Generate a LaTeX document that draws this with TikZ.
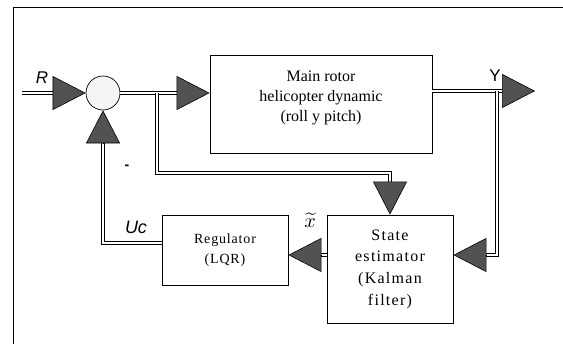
\documentclass[tikz,border=0pt]{standalone}
\usepackage{fontspec}
\setmainfont{Liberation Serif}
\setsansfont{Liberation Sans}
\newfontfamily\spacedserif[LetterSpace=8]{Liberation Serif}
\newfontfamily\lessspaced[LetterSpace=6]{Liberation Serif}
\usetikzlibrary{arrows.meta}
\definecolor{tipgray}{gray}{0.32}
\definecolor{sumgray}{gray}{0.96}
\tikzset{
  sig/.style={double, double distance=2.2pt, line width=0.6pt},
  tip/.style={line width=0.6pt, -{Triangle[length=33pt,width=34pt,fill=tipgray]}},
  blk/.style={draw, line width=0.8pt, rectangle, align=center, inner sep=0pt},
  sglabel/.style={font=\sffamily\itshape\fontsize{17}{17}\selectfont, inner sep=0pt}
}

\begin{document}
\begin{tikzpicture}[x=1pt,y=-1pt]
\useasboundingbox (0,0) rectangle (563,344);
\draw [line width=1pt] (13,344) -- (13,8) -- (563,8);

% blocks
\node [circle, draw, line width=0.7pt, fill=sumgray, minimum size=34pt, inner sep=0pt] (sum) at (103,93) {};
\node [blk, minimum width=222pt, minimum height=98pt] (plant) at (321,104) {};
\node [align=center, inner sep=0pt, font=\fontsize{16}{20}\selectfont] (plantlbl) at (321,98) {Main rotor\\helicopter dynamic\\(roll y pitch)};
\node [blk, minimum width=126pt, minimum height=108pt, font=\spacedserif\fontsize{16}{21.7}\selectfont] (est) at (390,269) {State\\estimator\\(Kalman\\filter)};
\node [blk, minimum width=126pt, minimum height=70pt, font=\lessspaced\fontsize{14}{20}\selectfont] (reg) at (225,250) {Regulator\\(LQR)};

% points on the signal lines
\coordinate (rin) at (22,93);
\coordinate (rbase) at (53,93);
\coordinate (ubase) at (177,93);
\coordinate (brk) at (157,93);
\coordinate (ebase) at (390,182);
\coordinate (yj) at (497,91);
\coordinate (ybase) at (502,91);
\coordinate (yout) at (535,91);
\coordinate (fb) at (486,255);
\coordinate (xb) at (321,255);
\coordinate (ucor) at (103,243);
\coordinate (ubase2) at (103,143);

% input to summing point
\draw [sig] (rin) -- (rbase);
\draw [tip] (rbase) -- (sum.west);
\node [sglabel] (rlbl) at (42,78) {R};

% summing point to plant
\draw [sig] (sum.east) -- (ubase);
\draw [tip] (ubase) -- (ubase -| plant.west);
\draw [sig] (brk) -- (157,173) -- (390,173) -- (ebase);
\draw [tip] (ebase) -- (est.north);

% plant output
\draw [sig] (plant.east |- yj) -- (ybase);
\draw [tip] (ybase) -- (yout);
\node [sglabel, font=\sffamily\fontsize{17}{17}\selectfont] (ylbl) at (495,76) {Y};
\draw [sig] (yj) -- (497,255) -- (fb);
\draw [tip] (fb) -- (est.east |- fb);

% estimator to regulator
\draw [sig] (est.west |- xb) -- (xb);
\draw [tip] (xb) -- (reg.east |- xb);
\node [inner sep=0pt] (xlbl) at (310,220) {\scalebox{2}{$\widetilde{x}$}};

% regulator back to summing point
\draw [sig] (reg.west |- ucor) -- (ucor) -- (ubase2);
\draw [tip] (ubase2) -- (sum.south);
\node [sglabel, font=\sffamily\itshape\fontsize{18}{18}\selectfont] (uclbl) at (136,227) {Uc};
\node [inner sep=0pt, font=\sffamily\bfseries\fontsize{14}{14}\selectfont] (minus) at (127,167) {-};
\end{tikzpicture}
\end{document}
